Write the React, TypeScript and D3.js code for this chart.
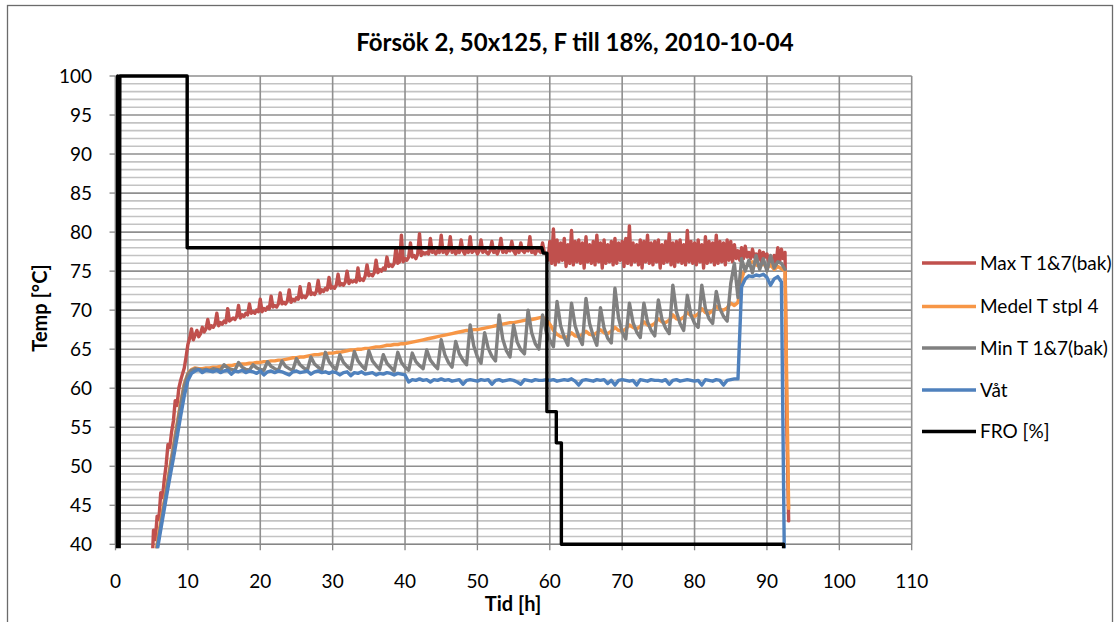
import React from 'react';
import * as d3 from 'd3';

// Försök 2 – temperature log
const title = 'Försök 2, 50x125, F till 18%, 2010-10-04';
const xTicks = [0, 10, 20, 30, 40, 50, 60, 70, 80, 90, 100, 110];
const yTicks = [40, 45, 50, 55, 60, 65, 70, 75, 80, 85, 90, 95, 100];

// Max T 1&7(bak): from 5 h, every 0.25 h
const maxStart = 5;
const maxStep = 0.25;
const maxT = [
  36.0, 41.8, 40.6, 43.6, 43.2, 46.6, 46.0, 48.4, 50.2, 52.8, 52.4, 54.4,
  55.8, 58.4, 57.8, 60.0, 61.0, 61.8, 62.6, 64.0, 65.6, 66.4, 67.6, 66.2,
  66.8, 67.4, 66.6, 67.0, 67.8, 67.2, 67.6, 68.8, 67.6, 68.0, 67.8, 68.2,
  69.6, 68.0, 68.4, 68.2, 68.6, 68.4, 70.2, 68.6, 68.8, 69.0, 68.8, 69.2,
  70.6, 69.0, 69.4, 69.2, 69.6, 69.4, 70.8, 69.6, 69.8, 69.6, 70.0, 69.8,
  71.4, 69.8, 70.2, 70.0, 70.4, 70.2, 71.8, 70.4, 70.6, 70.4, 70.8, 72.2,
  70.8, 71.0, 70.8, 71.2, 72.6, 71.0, 71.4, 71.2, 71.6, 71.4, 73.0, 71.6,
  71.8, 71.6, 72.0, 73.4, 72.0, 72.2, 72.0, 72.4, 73.8, 72.2, 72.6, 72.4,
  72.8, 72.6, 74.2, 72.8, 73.0, 72.8, 73.2, 74.6, 73.2, 73.4, 73.2, 73.6,
  75.0, 73.4, 73.8, 73.6, 73.8, 73.6, 75.4, 73.8, 74.0, 73.8, 74.4, 75.8,
  74.4, 74.6, 74.4, 74.8, 76.4, 74.8, 75.2, 75.0, 75.4, 75.2, 76.8, 75.6,
  75.8, 75.6, 76.0, 78.0, 76.0, 76.2, 79.6, 76.2, 76.6, 76.4, 76.8, 78.6,
  76.8, 77.0, 76.6, 77.2, 79.8, 77.0, 77.4, 77.2, 77.4, 77.2, 79.2, 77.4,
  77.6, 77.2, 77.6, 77.4, 79.6, 77.4, 77.8, 77.2, 77.6, 79.4, 77.4, 77.8,
  77.2, 77.6, 77.4, 79.0, 77.6, 77.2, 77.8, 77.4, 79.4, 77.4, 77.6, 77.8,
  77.2, 77.6, 79.0, 77.4, 77.8, 77.4, 77.2, 77.6, 78.8, 77.4, 77.6, 77.2,
  77.8, 79.2, 77.4, 77.6, 77.4, 77.8, 77.6, 78.8, 77.6, 77.2, 77.8, 77.4,
  78.6, 77.6, 77.4, 77.8, 77.6, 79.4, 77.4, 77.6, 77.2, 77.8, 77.6, 77.4,
  78.6, 77.4, 77.2, 76.4,
  78.8, 76.0, 80.4, 75.8, 79.0, 76.2, 78.6, 76.4, 79.2, 75.6, 78.4, 76.0,
  80.2, 75.8, 78.8, 76.2, 79.0, 76.0, 78.6, 75.4, 79.4, 76.2, 78.4, 76.0,
  78.8, 75.8, 79.6, 76.2, 78.6, 75.4, 79.0, 76.0, 78.4, 76.2, 78.8, 75.8,
  79.2, 76.0, 78.6, 76.4, 78.8, 75.6, 79.2, 76.0, 80.8, 75.8, 78.6, 76.2,
  78.4, 75.8, 79.0, 75.4, 78.8, 76.2, 79.6, 76.0, 78.6, 75.8, 78.8, 76.2,
  79.0, 75.4, 78.4, 76.0, 78.8, 76.2, 79.8, 75.8, 78.6, 75.6, 78.8, 76.2,
  79.0, 76.0, 78.4, 75.8, 80.2, 76.2, 78.8, 76.0, 78.6, 75.8, 79.0, 76.2,
  78.4, 75.4, 79.4, 76.0, 78.8, 76.2, 78.6, 75.8, 79.6, 76.0, 78.8, 76.2,
  78.6, 75.8, 79.0, 76.4, 78.8, 76.2, 78.4, 76.6,
  77.6, 76.4, 78.0, 76.6, 78.2, 76.8, 77.4, 76.6, 77.8, 76.8, 77.2, 76.4,
  77.6, 76.2, 77.4, 76.8, 77.2, 76.2, 76.8, 75.8, 77.0, 75.8, 78.0, 76.2,
  77.8, 76.6, 77.4, 55.0, 43.0,
];

// Medel T stpl 4, Min T 1&7(bak), Våt: from 5.5 h, every 0.5 h
const halfStart = 5.5;
const halfStep = 0.5;
const medelT = [
  38.5,
  41.5, 44.3, 47.0, 49.8, 52.6, 55.4, 58.2, 60.6, 61.9, 62.4, // 6 - 10.5
  62.6, 62.5, 62.5, 62.6, 62.6, 62.7, 62.7, 62.8, 62.8, 62.9, // 11 - 15.5
  62.9, 63.0, 63.0, 63.1, 63.1, 63.2, 63.2, 63.3, 63.3, 63.4, // 16 - 20.5
  63.4, 63.5, 63.5, 63.6, 63.6, 63.7, 63.8, 63.9, 63.9, 64.0, // 21 - 25.5
  64.0, 64.1, 64.2, 64.3, 64.3, 64.4, 64.4, 64.5, 64.5, 64.6, // 26 - 30.5
  64.6, 64.7, 64.8, 64.9, 64.9, 65.0, 65.0, 65.1, 65.1, 65.2, // 31 - 35.5
  65.3, 65.3, 65.4, 65.5, 65.5, 65.6, 65.6, 65.7, 65.7, 65.8, // 36 - 40.5
  65.9, 66.0, 66.1, 66.2, 66.3, 66.4, 66.5, 66.6, 66.7, 66.8, // 41 - 45.5
  66.9, 67.0, 67.1, 67.2, 67.3, 67.4, 67.4, 67.5, 67.5, 67.6, // 46 - 50.5
  67.7, 67.8, 67.9, 68.0, 68.1, 68.2, 68.3, 68.4, 68.4, 68.5, // 51 - 55.5
  68.6, 68.7, 68.8, 68.8, 68.9, 69.0, 69.1, 68.8, 68.2, 67.4, // 56 - 60.5
  66.9, 66.6, 66.5, 66.6, 67.1, 66.7, 66.6, 66.9, 67.3, 66.9, // 61 - 65.5
  66.8, 67.1, 67.5, 67.1, 67.0, 67.3, 67.8, 67.4, 67.3, 67.6, // 66 - 70.5
  68.1, 67.8, 67.6, 67.9, 68.5, 68.1, 68.0, 68.3, 68.9, 68.5, // 71 - 75.5
  68.4, 68.7, 69.4, 68.9, 68.8, 69.1, 69.7, 69.3, 69.2, 69.5, // 76 - 80.5
  70.2, 69.7, 69.6, 69.9, 70.5, 70.1, 70.0, 70.3, 70.9, 70.6, // 81 - 85.5
  71.0, 74.0, 75.4, 76.0, 76.2, 75.8, 75.6, 76.0, 75.4, 75.8, // 86 - 90.5
  75.2, 75.6, 75.3, 75.0, 44.6, // 91 - 93
];
const minT = [
  38.0, 41.0, 43.8, 46.6, 49.4, 52.2, 55.0, 57.8, 60.3, 61.8, 62.3,
  62.5, 62.4, 62.3, 62.4, 62.3, 62.5, 62.4, 62.3, 63.0, 62.6, 62.4, 62.3,
  63.3, 62.7, 62.4, 62.3, 63.0, 62.6, 62.4, 62.3, 63.4, 62.8, 62.5, 62.3,
  63.5, 62.8, 62.5, 62.3, 63.8, 63.0, 62.6, 62.3, 64.0, 63.1, 62.7, 62.3,
  64.6, 63.4, 62.8, 62.4, 64.3, 63.3, 62.8, 62.4, 64.7, 63.5, 62.9, 62.4,
  64.8, 63.5, 62.9, 62.4, 64.3, 63.2, 62.7, 62.2, 64.6, 63.3, 62.7, 62.3,
  64.5, 63.4, 62.9, 62.5, 64.9, 63.6, 63.0, 62.5, 66.2, 64.3, 63.3, 62.7,
  66.0, 64.4, 63.6, 63.0, 68.1, 65.4, 64.0, 63.2, 67.1, 65.1, 64.1, 63.5,
  69.4, 66.3, 64.8, 64.0, 68.1, 65.9, 64.9, 64.4, 70.0, 67.1, 65.7, 65.0,
  69.4, 67.2, 66.2, 65.3, 71.1, 68.0, 66.5, 65.5, 70.9, 68.0, 66.6, 65.6,
  71.5, 68.3, 66.7, 65.5, 70.3, 67.7, 66.4, 65.8, 72.8, 69.0, 67.2, 66.3,
  70.9, 68.4, 67.2, 66.5, 70.9, 68.5, 67.4, 66.7, 71.3, 68.8, 67.7, 67.0,
  73.2, 69.8, 68.3, 67.4, 71.9, 69.4, 68.3, 67.8, 73.2, 70.2, 68.9, 68.3,
  72.4, 70.2, 69.2, 68.6, 73.4, 76.0, 71.6, 76.6, 75.0, 76.4, 74.8, 77.0,
  75.2, 76.6, 75.0, 77.0, 75.4, 76.2, 76.0, 75.2,
];
const vatT = [
  37.8, 40.5, 43.2, 45.9, 48.5, 51.0, 53.7, 56.4, 59.0, 61.0, 61.9,
  62.2, 62.4, 62.0, 62.3, 62.2, 62.1, 62.3, 62.0, 62.2, 62.3, 61.8, 62.2,
  62.1, 62.3, 62.0, 62.2, 62.1, 61.9, 62.2, 61.7, 62.1, 62.2, 62.0, 62.2,
  62.1, 61.9, 61.7, 62.1, 62.2, 62.0, 62.1, 62.2, 61.8, 62.1, 62.2, 62.0,
  62.1, 61.9, 62.1, 62.0, 61.7, 62.0, 62.1, 61.6, 62.0, 61.9, 62.1, 61.8,
  61.9, 62.0, 61.7, 61.9, 61.8, 62.0, 61.9, 61.7, 61.9, 61.8, 61.7, 60.8,
  61.1, 61.0, 61.2, 61.0, 61.1, 60.8, 61.1, 61.0, 61.2, 61.0, 61.1, 60.9,
  61.0, 61.1, 60.5, 61.0, 61.1, 61.0, 60.9, 61.1, 61.0, 61.1, 60.5, 61.0,
  61.1, 60.9, 61.0, 61.1, 61.0, 60.8, 60.5, 61.1, 61.0, 60.9, 61.1, 61.0,
  61.0, 61.1, 61.0, 61.1, 60.9, 61.0, 61.1, 61.0, 61.2, 60.9, 60.4, 61.0,
  61.1, 61.0, 60.9, 61.1, 61.0, 61.1, 60.6, 61.0, 60.4, 61.0, 61.1, 61.0,
  60.9, 61.0, 60.4, 61.1, 61.0, 60.9, 61.1, 61.0, 61.0, 60.9, 61.1, 60.5,
  61.0, 61.1, 60.9, 61.0, 61.1, 61.0, 60.9, 61.0, 60.4, 61.1, 61.0, 60.9,
  61.1, 61.0, 60.4, 61.0, 61.1, 61.2, 61.2, 73.0, 74.0, 74.4, 74.3, 74.5,
  74.4, 74.6, 74.2, 73.2, 74.0, 74.3, 73.6, 30.0,
];

// FRO [%]: steps, [h, %]
const fro: [number, number][] = [
  [0.2, 0], [0.3, 100], [0.45, 0], [0.6, 100], [9.9, 100], [9.9, 78],
  [58.9, 78], [59.1, 77.3], [59.6, 77.3], [59.6, 57], [60.9, 57], [60.9, 53],
  [61.6, 53], [61.6, 40], [92.3, 40], [92.3, 0],
];

const toPoints = (vals: number[], start: number, step: number): [number, number][] =>
  vals.map((v, i) => [start + i * step, v]);

const series = [
  { name: 'Max T 1&7(bak)', color: '#C0504D', pts: toPoints(maxT, maxStart, maxStep) },
  { name: 'Medel T stpl 4', color: '#F79646', pts: toPoints(medelT, halfStart, halfStep) },
  { name: 'Min T 1&7(bak)', color: '#808080', pts: toPoints(minT, halfStart, halfStep) },
  { name: 'Våt', color: '#4F81BD', pts: toPoints(vatT, halfStart, halfStep) },
  { name: 'FRO [%]', color: '#000000', pts: fro },
];

const App = () => {
  const left = 115.5, right = 911.7, top = 76, bottom = 544.3;
  const x = d3.scaleLinear().domain([0, 110]).range([left, right]);
  const y = d3.scaleLinear().domain([40, 100]).range([bottom, top]);
  const line = d3.line<[number, number]>().x((d) => x(d[0])).y((d) => y(d[1]));
  const font = 'Lato, Carlito, Calibri, sans-serif';

  return (
    <svg width={1116} height={622} style={{ position: 'absolute', left: 0, top: 0, background: '#fff' }}
      fontFamily={font}>
      <rect x={7.5} y={5.5} width={1105} height={700} fill="#fff" stroke="#6b6b6b" strokeWidth={1.3} />
      <defs>
        <clipPath id="plotclip">
          <rect x={left} y={top - 3} width={right - left + 2} height={bottom - top + 7} />
        </clipPath>
      </defs>
      <text x={575} y={51} textAnchor="middle" fontSize={24} fontWeight="bold">{title}</text>

      {/* minor gridlines */}
      {d3.range(40, 101, 1).filter((v) => v % 5 !== 0).map((v) => (
        <line key={'mn' + v} x1={left} x2={right} y1={y(v)} y2={y(v)} stroke="#c3c3c3" strokeWidth={1.6} />
      ))}
      {yTicks.map((v) => (
        <line key={'mj' + v} x1={left} x2={right} y1={y(v)} y2={y(v)} stroke="#8f8f8f" strokeWidth={1.6} />
      ))}
      {xTicks.map((v) => (
        <line key={'vx' + v} x1={x(v)} x2={x(v)} y1={top} y2={bottom} stroke="#8f8f8f" strokeWidth={1.6} />
      ))}

      {/* axes */}
      <line x1={left} x2={left} y1={top} y2={bottom} stroke="#868686" strokeWidth={1.3} />
      <line x1={left} x2={right} y1={bottom} y2={bottom} stroke="#868686" strokeWidth={1.3} />
      {yTicks.map((v) => (
        <g key={'yt' + v}>
          <line x1={left - 6} x2={left} y1={y(v)} y2={y(v)} stroke="#868686" strokeWidth={1.3} />
          <text x={92} y={y(v) + 6.5} textAnchor="end" fontSize={19}>{v}</text>
        </g>
      ))}
      {xTicks.map((v) => (
        <g key={'xt' + v}>
          <line x1={x(v)} x2={x(v)} y1={bottom} y2={bottom + 6} stroke="#868686" strokeWidth={1.3} />
          <text x={x(v)} y={588} textAnchor="middle" fontSize={19}>{v}</text>
        </g>
      ))}
      <text x={513} y={611} textAnchor="middle" fontSize={20} fontWeight="bold">Tid [h]</text>
      <text transform="translate(47,308) rotate(-90)" textAnchor="middle" fontSize={20} fontWeight="bold">Temp [°C]</text>

      {/* series */}
      <g clipPath="url(#plotclip)">
        {series.map((s) => (
          <path key={s.name} d={line(s.pts) || ''} fill="none" stroke={s.color} strokeWidth={3.4}
            strokeLinejoin="round" strokeLinecap="round" />
        ))}
      </g>

      {/* legend */}
      {series.map((s, i) => {
        const ly = [263, 306.5, 348, 390, 431.5][i];
        return (
          <g key={'lg' + i}>
            <line x1={922} x2={976} y1={ly} y2={ly} stroke={s.color} strokeWidth={3.4} />
            <text x={980} y={ly + 6.5} fontSize={19}>{s.name}</text>
          </g>
        );
      })}
    </svg>
  );
};

export default App;
